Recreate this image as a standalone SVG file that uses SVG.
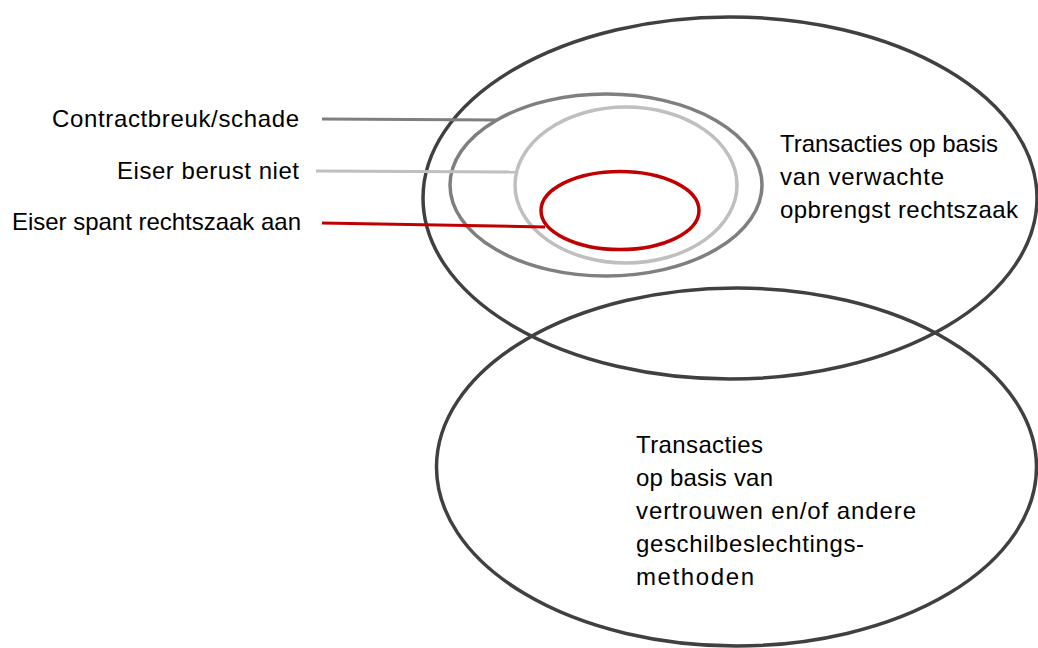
<svg xmlns="http://www.w3.org/2000/svg" width="1038" height="648" viewBox="0 0 1038 648">
<style>
.t{font-family:"Liberation Sans",Arial,sans-serif;font-size:24px;fill:#000}
.e{fill:none}
.outer{stroke:#404040;stroke-width:3.5}
.mid{stroke:#7f7f7f;stroke-width:3.5}
.light{stroke:#bfbfbf;stroke-width:3.5}
.red{stroke:#c00000;stroke-width:3.5}
.ln{fill:none;stroke-width:3}
</style>
<rect width="1038" height="648" fill="#ffffff"/>
<g id="node-top">
<ellipse class="e outer" cx="730" cy="198" rx="307" ry="181"/>
<text class="t" x="780" y="152" textLength="218" lengthAdjust="spacing">Transacties op basis</text>
<text class="t" x="780" y="185" textLength="164" lengthAdjust="spacing">van verwachte</text>
<text class="t" x="780" y="218" textLength="238" lengthAdjust="spacing">opbrengst rechtszaak</text>
</g>
<g id="node-bottom">
<ellipse class="e outer" cx="736.5" cy="467" rx="300" ry="179"/>
<text class="t" x="636" y="453" textLength="127" lengthAdjust="spacing">Transacties</text>
<text class="t" x="636" y="486" textLength="137" lengthAdjust="spacing">op basis van</text>
<text class="t" x="636" y="519" textLength="280" lengthAdjust="spacing">vertrouwen en/of andere</text>
<text class="t" x="636" y="552" textLength="228" lengthAdjust="spacing">geschilbeslechtings-</text>
<text class="t" x="636" y="585" textLength="118" lengthAdjust="spacing">methoden</text>
</g>
<g id="node-contractbreuk">
<ellipse class="e mid" cx="606" cy="185" rx="156" ry="91"/>
<text class="t" x="52" y="127" textLength="247" lengthAdjust="spacing">Contractbreuk/schade</text>
</g>
<g id="node-berust">
<ellipse class="e light" cx="626" cy="185" rx="111" ry="78"/>
<text class="t" x="117" y="179" textLength="182" lengthAdjust="spacing">Eiser berust niet</text>
</g>
<g id="node-rechtszaak">
<ellipse class="e red" cx="620" cy="210.5" rx="79" ry="39"/>
<text class="t" x="12" y="230" textLength="289" lengthAdjust="spacing">Eiser spant rechtszaak aan</text>
</g>
<g id="connectors">
<line class="ln" x1="322" y1="119" x2="497" y2="120" stroke="#7f7f7f"/>
<line class="ln" x1="316" y1="171" x2="516" y2="172" stroke="#bfbfbf"/>
<line class="ln" x1="322" y1="223" x2="545" y2="227" stroke="#c00000"/>
</g>
</svg>
